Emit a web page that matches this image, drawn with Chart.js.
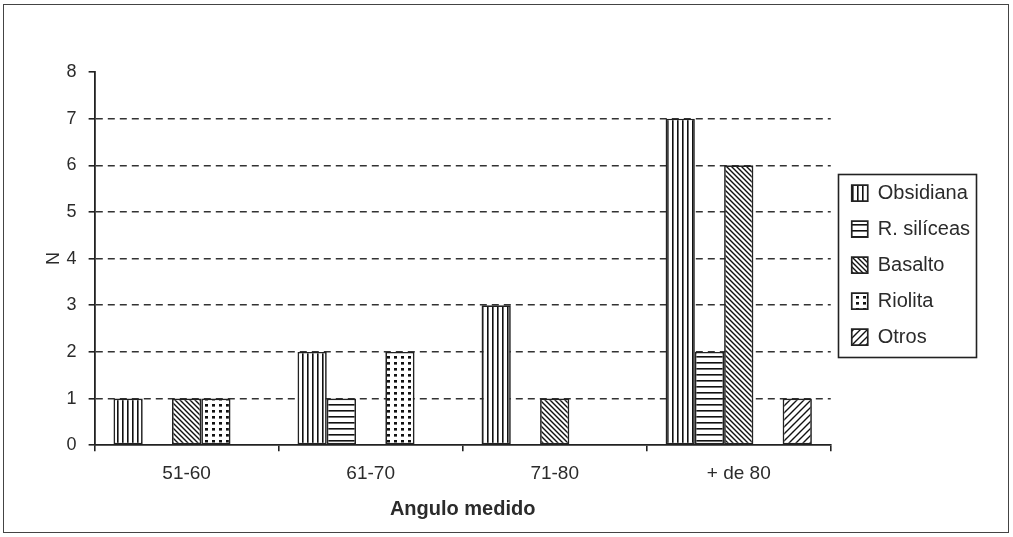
<!DOCTYPE html>
<html><head><meta charset="utf-8">
<script src="https://cdn.jsdelivr.net/npm/chart.js@4.4.1/dist/chart.umd.min.js"></script>
<style>
html,body{margin:0;padding:0;background:#fff;}
#wrap{position:relative;width:1013px;height:537px;}
#frame{position:absolute;left:3px;top:4px;width:1006px;height:529px;border:1.5px solid #444;box-sizing:border-box;pointer-events:none;}
canvas{position:absolute;left:0;top:0;}
</style></head><body>
<div id="wrap"><canvas id="c" width="1013" height="537"></canvas><div id="frame"></div></div>
<script>
const categories = ['51-60', '61-70', '71-80', '+ de 80'];
const seriesNames = ['Obsidiana', 'R. silíceas', 'Basalto', 'Riolita', 'Otros'];
const obsidiana = [1, 2, 3, 7];
const rSiliceas = [0, 1, 0, 2];
const basalto = [1, 0, 1, 6];
const riolita = [1, 2, 0, 0];
const otros = [0, 0, 0, 1];
const yTicks = [0, 1, 2, 3, 4, 5, 6, 7, 8];
const xTitle = 'Angulo medido';
const yTitle = 'N';

const INK = '#222';
const TXT = '#2b2b2b';
const FONT = "'Liberation Sans', Arial, sans-serif";

function makePattern(kind) {
  const c = document.createElement('canvas');
  const g = c.getContext('2d');
  let w = 5, h = 5;
  if (kind === 'horiz') { w = 6; h = 6; }
  if (kind === 'back') { w = 5; h = 5; }
  if (kind === 'fwd') { w = 7; h = 7; }
  if (kind === 'dots') { w = 7; h = 6; }
  c.width = w; c.height = h;
  g.fillStyle = '#fff'; g.fillRect(0, 0, w, h);
  g.fillStyle = '#111'; g.strokeStyle = '#111'; g.lineWidth = 1.4;
  if (kind === 'vert') { g.fillRect(2, 0, 1.6, h); }
  else if (kind === 'horiz') { g.fillRect(0, 2, w, 1.6); }
  else if (kind === 'back') { g.beginPath(); for (const k of [-w, 0, w]) { g.moveTo(-1, -1 + k); g.lineTo(w + 1, w + 1 + k); } g.stroke(); }
  else if (kind === 'fwd') { g.beginPath(); for (const k of [0, w, 2 * w]) { g.moveTo(-1, k + 1); g.lineTo(w + 1, k - w - 1); } g.stroke(); }
  else if (kind === 'dots') { g.fillRect(2, 2, 3, 2.6); }
  return document.getElementById('c').getContext('2d').createPattern(c, 'repeat');
}

const seriesData = [obsidiana, rSiliceas, basalto, riolita, otros];
const patternKinds = ['vert', 'horiz', 'back', 'dots', 'fwd'];

const datasets = seriesNames.map((name, i) => ({
  label: name,
  data: seriesData[i],
  backgroundColor: makePattern(patternKinds[i]),
  borderColor: INK,
  borderWidth: 1.7,
  borderSkipped: false,
  categoryPercentage: 0.795,
  barPercentage: 1.0
}));

const legendShift = {
  id: 'legendShift',
  afterLayout(chart) {
    const lg = chart.legend;
    if (!lg) return;
    lg.left += 5; lg.right += 5;
    lg.top += 6.5; lg.bottom += 6.5;
  },
  afterDraw(chart) {
    const lg = chart.legend;
    if (!lg || !lg.legendHitBoxes || !lg.legendHitBoxes.length) return;
    const hb = lg.legendHitBoxes;
    let l = Infinity, r = -Infinity, t = Infinity, b = -Infinity;
    hb.forEach(h => { l = Math.min(l, h.left); r = Math.max(r, h.left + h.width); t = Math.min(t, h.top); b = Math.max(b, h.top + h.height); });
    const ctx = chart.ctx;
    ctx.save();
    ctx.strokeStyle = INK; ctx.lineWidth = 1.6;
    ctx.strokeRect(Math.round(l - 14) + 0.5, Math.round(t - 9) + 0.5, Math.round(r - l + 20), Math.round(b - t + 19));
    ctx.restore();
  }
};

new Chart(document.getElementById('c'), {
  type: 'bar',
  data: { labels: categories, datasets },
  plugins: [legendShift],
  options: {
    responsive: false,
    animation: false,
    layout: { padding: { left: 39, right: 38, top: 72, bottom: 12 } },
    plugins: {
      legend: {
        position: 'right',
        align: 'center',
        fullSize: false,
        labels: { boxWidth: 16, boxHeight: 16, padding: 16, color: TXT, font: { family: FONT, size: 20 } }
      },
      tooltip: { enabled: false }
    },
    scales: {
      x: {
        grid: { offset: true, drawOnChartArea: false, color: INK, tickColor: INK, tickLength: 6, lineWidth: 1.6 },
        border: { color: INK, width: 1.8 },
        ticks: { color: TXT, font: { family: FONT, size: 19 }, padding: 11 },
        title: { display: true, text: xTitle, color: TXT, font: { family: FONT, size: 20, weight: 'bold' }, padding: { top: 1, bottom: 4 } }
      },
      y: {
        min: 0, max: 8,
        afterBuildTicks(axis) { axis.ticks = yTicks.map(v => ({ value: v })); },
        grid: {
          color: c => (c.tick && c.tick.value > 0 && c.tick.value < 8) ? '#333' : 'rgba(0,0,0,0)',
          tickColor: INK, tickLength: 6, lineWidth: 1.6
        },
        border: { color: INK, width: 1.8, dash: [7, 5] },
        ticks: { color: TXT, font: { family: FONT, size: 18 }, padding: 12 },
        title: { display: true, text: yTitle, color: TXT, font: { family: FONT, size: 18 }, padding: { top: 4, bottom: -10 } }
      }
    }
  }
});
</script>
</body></html>
